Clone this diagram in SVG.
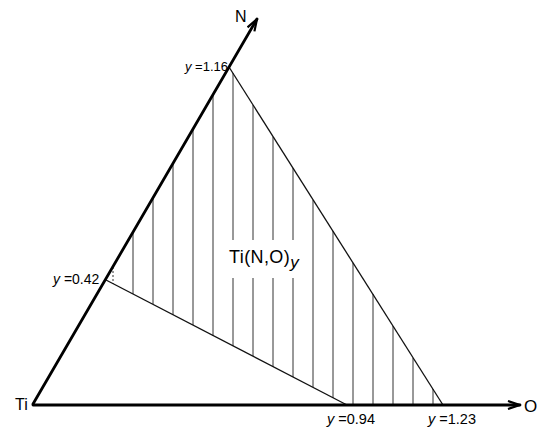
<svg xmlns="http://www.w3.org/2000/svg" width="540" height="430" viewBox="0 0 540 430">
<style>
.axis{stroke:#000;stroke-width:2.8;fill:none;stroke-linecap:round}
.edge{stroke:#111;stroke-width:1.3;fill:none}
.hatch{stroke:#333;stroke-width:1}
.lbl{font-family:"Liberation Sans",Arial,sans-serif;fill:#000}
.it{font-style:italic}
</style>
<defs>
<marker id="arr" viewBox="0 0 14 10" refX="13" refY="5" markerWidth="14" markerHeight="10" markerUnits="userSpaceOnUse" orient="auto">
<path d="M1,1 L13,5 L1,9" fill="none" stroke="#000" stroke-width="2.2"/>
</marker>
</defs>
<rect width="540" height="430" fill="#fff"/>
<g id="hatching">
<line class="hatch" x1="113" y1="267" x2="113" y2="284" stroke-dasharray="2,2" stroke="#888"/>
<line class="hatch" x1="133" y1="232" x2="133" y2="294"/>
<line class="hatch" x1="153" y1="198" x2="153" y2="304"/>
<line class="hatch" x1="173" y1="163" x2="173" y2="315"/>
<line class="hatch" x1="193" y1="129" x2="193" y2="325"/>
<line class="hatch" x1="213" y1="95" x2="213" y2="336"/>
<line class="hatch" x1="233" y1="73" x2="233" y2="240"/>
<line class="hatch" x1="233" y1="278" x2="233" y2="346"/>
<line class="hatch" x1="253" y1="105" x2="253" y2="240"/>
<line class="hatch" x1="253" y1="278" x2="253" y2="356"/>
<line class="hatch" x1="273" y1="137" x2="273" y2="240"/>
<line class="hatch" x1="273" y1="278" x2="273" y2="367"/>
<line class="hatch" x1="293" y1="168" x2="293" y2="240"/>
<line class="hatch" x1="293" y1="278" x2="293" y2="377"/>
<line class="hatch" x1="313" y1="200" x2="313" y2="387"/>
<line class="hatch" x1="333" y1="231" x2="333" y2="398"/>
<line class="hatch" x1="353" y1="263" x2="353" y2="405"/>
<line class="hatch" x1="373" y1="294" x2="373" y2="405"/>
<line class="hatch" x1="393" y1="326" x2="393" y2="405"/>
<line class="hatch" x1="413" y1="358" x2="413" y2="405"/>
<line class="hatch" x1="433" y1="389" x2="433" y2="405"/>
</g>
<g id="connectors">
<line class="edge" x1="229" y1="67" x2="443" y2="405"/>
<line class="edge" x1="106" y1="280" x2="347" y2="405"/>
<line id="axis-O" class="axis" x1="33" y1="405" x2="520" y2="405" marker-end="url(#arr)"/>
<line id="axis-N" class="axis" x1="33" y1="404" x2="257" y2="19" stroke-width="3" marker-end="url(#arr)"/>
</g>
<g id="node-Ti"><text class="lbl" x="15" y="410" font-size="16">Ti</text></g>
<g id="node-N"><text class="lbl" x="235" y="22" font-size="16">N</text></g>
<g id="node-O"><text class="lbl" x="524" y="412" font-size="17">O</text></g>
<g id="label-116"><text class="lbl" x="185" y="71" font-size="13"><tspan class="it">y</tspan> =1.16</text></g>
<g id="label-042"><text class="lbl" x="53" y="284" font-size="14"><tspan class="it">y</tspan> =0.42</text></g>
<g id="label-094"><text class="lbl" x="327" y="424" font-size="14.5"><tspan class="it">y</tspan> =0.94</text></g>
<g id="label-123"><text class="lbl" x="428" y="424" font-size="14.5"><tspan class="it">y</tspan> =1.23</text></g>
<g id="label-phase"><text class="lbl" x="229" y="263" font-size="18" letter-spacing="0.4">Ti(N,O)<tspan class="it" dy="5" font-size="17">y</tspan></text></g>
</svg>
